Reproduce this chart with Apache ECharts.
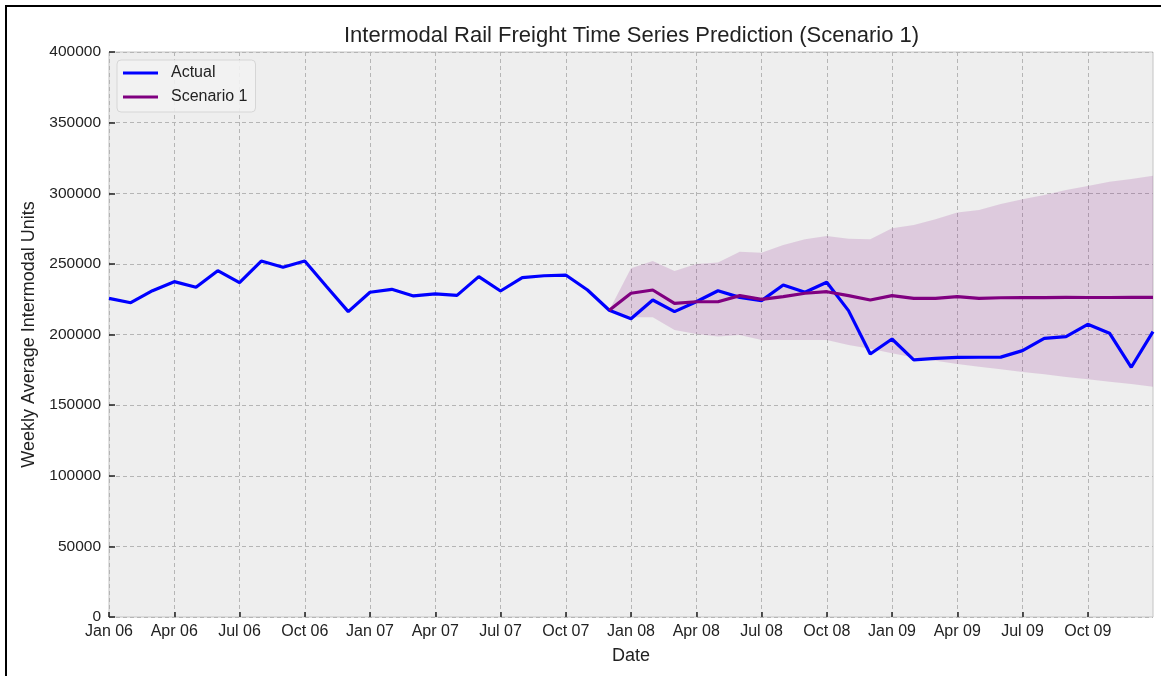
<!DOCTYPE html>
<html>
<head>
<meta charset="utf-8">
<title>Intermodal Rail Freight Time Series Prediction</title>
<script src="https://cdn.jsdelivr.net/npm/echarts@6/dist/echarts.min.js"></script>
<style>
  html, body { margin: 0; padding: 0; background: #fff; }
  #chart { position: absolute; left: 0; top: 0; width: 1161px; height: 676px; }
  .frame {
    position: absolute; left: 5px; top: 5px; right: 0; bottom: 0;
    border-left: 2px solid #000; border-top: 2px solid #000;
    pointer-events: none;
  }
</style>
</head>
<body>
<div id="chart"></div>
<div class="frame"></div>
<script>
// monthly points, Jan 2006 .. Jan 2010
const months = [
  'Jan 06', 'Feb 06', 'Mar 06', 'Apr 06', 'May 06', 'Jun 06', 'Jul 06', 'Aug 06', 'Sep 06', 'Oct 06', 'Nov 06', 'Dec 06',
  'Jan 07', 'Feb 07', 'Mar 07', 'Apr 07', 'May 07', 'Jun 07', 'Jul 07', 'Aug 07', 'Sep 07', 'Oct 07', 'Nov 07', 'Dec 07',
  'Jan 08', 'Feb 08', 'Mar 08', 'Apr 08', 'May 08', 'Jun 08', 'Jul 08', 'Aug 08', 'Sep 08', 'Oct 08', 'Nov 08', 'Dec 08',
  'Jan 09', 'Feb 09', 'Mar 09', 'Apr 09', 'May 09', 'Jun 09', 'Jul 09', 'Aug 09', 'Sep 09', 'Oct 09', 'Nov 09', 'Dec 09',
  'Jan 10'
]

const actual = [
  225600, 222500, 231000, 237400, 233400, 245200, 236700, 252000, 247600, 252000, 234000, 216200,
  229900, 232000, 227300, 228700, 227700, 241000, 230800, 240200, 241600, 242100, 231500, 217200,
  211100, 224400, 216200, 223200, 231000, 226300, 224000, 235000, 229900, 237000, 216900, 186200,
  196800, 182000, 183100, 183800, 183900, 184000, 188600, 197300, 198500, 207200, 200900, 176800,
  202000
]

// forecast starts at Dec 07
const forecastStart = 23

const scenario1 = [
  217200, 229200, 231500, 222100, 223200, 223200, 227500, 224900, 226800, 229200, 230300, 227500, 224400,
  227500, 225600, 225600, 226800, 225600, 226000, 226200, 226100, 226300, 226200, 226200, 226300, 226300
]

const upperBound = [
  217200, 246900, 252000, 245000, 249900, 250900, 258600, 257900, 263400, 267400, 269700, 267800, 267400,
  275200, 277500, 281600, 286300, 288200, 292400, 295700, 298800, 302300, 305100, 308200, 310100, 312400
]

const lowerBound = [
  217200, 212200, 212200, 203200, 200400, 198500, 199700, 196100, 196100, 196100, 196100, 192600, 190000,
  186700, 183800, 181500, 179100, 177200, 175400, 173500, 171800, 169900, 168300, 166600, 165000, 163000
]

const yTicks = [0, 50000, 100000, 150000, 200000, 250000, 300000, 350000, 400000]

const pad = (arr) => new Array(forecastStart).fill(null).concat(arr)
const bandWidth = upperBound.map((v, i) => v - lowerBound[i])

const showQuarter = (index) => index % 3 === 0 && index < months.length - 1
const font = '"Liberation Sans", Arial, Helvetica, sans-serif'

const chart = echarts.init(document.getElementById('chart'))

const option = {
  backgroundColor: '#ffffff',
  animation: false,
  textStyle: { fontFamily: font },
  title: {
    text: 'Intermodal Rail Freight Time Series Prediction (Scenario 1)',
    left: 339,
    top: 20,
    textStyle: { fontFamily: font, fontSize: 22, fontWeight: 'normal', color: '#222' }
  },
  grid: {
    left: 109,
    right: 8,
    top: 52,
    bottom: 59,
    show: true,
    backgroundColor: '#eeeeee',
    borderColor: '#c4c4c4',
    borderWidth: 1
  },
  legend: {
    data: ['Actual', 'Scenario 1'],
    orient: 'vertical',
    left: 117,
    top: 60,
    padding: [5, 8, 7, 6],
    itemGap: 8,
    itemWidth: 35,
    itemHeight: 3,
    icon: 'rect',
    backgroundColor: 'rgba(242,242,242,0.9)',
    borderColor: '#d6d6d6',
    borderWidth: 1,
    borderRadius: 4,
    textStyle: { fontFamily: font, fontSize: 16, color: '#222', padding: [0, 0, 0, 8] }
  },
  xAxis: {
    type: 'category',
    data: months,
    boundaryGap: false,
    name: 'Date',
    nameLocation: 'middle',
    nameGap: 30,
    nameTextStyle: { fontFamily: font, fontSize: 18, color: '#222' },
    axisLine: { show: false },
    axisTick: { show: true, inside: true, length: 5, interval: showQuarter, lineStyle: { color: '#222', width: 1.5 } },
    axisLabel: { interval: showQuarter, margin: 7, fontFamily: font, fontSize: 16, color: '#222' },
    splitLine: { show: true, interval: showQuarter, lineStyle: { color: '#b5b5b5', type: [4, 3], width: 1 } }
  },
  yAxis: {
    type: 'value',
    min: yTicks[0],
    max: yTicks[yTicks.length - 1],
    interval: yTicks[1] - yTicks[0],
    name: 'Weekly Average Intermodal Units',
    nameLocation: 'middle',
    nameGap: 67,
    nameTextStyle: { fontFamily: font, fontSize: 18, color: '#222' },
    axisLine: { show: false },
    axisTick: { show: true, inside: true, length: 6, lineStyle: { color: '#222', width: 1.5 } },
    axisLabel: { margin: 8, fontFamily: font, fontSize: 15.5, color: '#222', formatter: (v) => String(v) },
    splitLine: { show: true, lineStyle: { color: '#b5b5b5', type: [4, 3], width: 1 } }
  },
  series: [
    {
      name: 'lower',
      type: 'line',
      stack: 'band',
      data: pad(lowerBound),
      symbol: 'none',
      lineStyle: { opacity: 0 },
      silent: true
    },
    {
      name: 'band',
      type: 'line',
      stack: 'band',
      data: pad(bandWidth),
      symbol: 'none',
      lineStyle: { opacity: 0 },
      areaStyle: { color: 'rgba(128, 0, 128, 0.15)', opacity: 1 },
      silent: true
    },
    {
      name: 'Actual',
      type: 'line',
      data: actual,
      symbol: 'none',
      color: '#0000ff',
      lineStyle: { color: '#0000ff', width: 3.2 }
    },
    {
      name: 'Scenario 1',
      type: 'line',
      data: pad(scenario1),
      symbol: 'none',
      color: '#800080',
      lineStyle: { color: '#800080', width: 3.2 }
    }
  ]
}

chart.setOption(option)
</script>
</body>
</html>
